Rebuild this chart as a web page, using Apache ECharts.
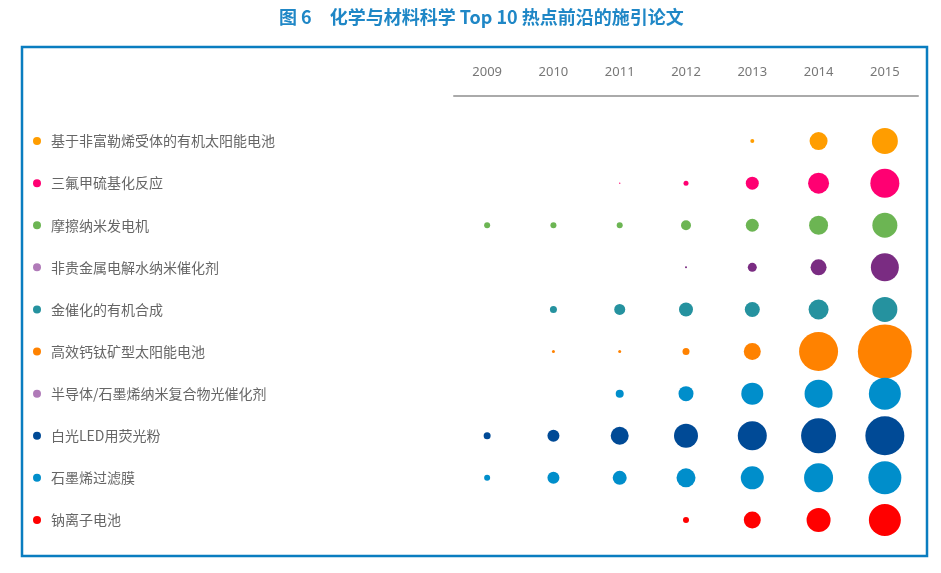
<!DOCTYPE html>
<html><head><meta charset="utf-8">
<script src="https://cdn.jsdelivr.net/npm/echarts@6/dist/echarts.min.js"></script>
<style>html,body{margin:0;padding:0;background:#fff}#c{width:941px;height:573px}</style>
</head><body><div id="c"></div>
<script>
const years = ['2009','2010','2011','2012','2013','2014','2015'];
const topics = ['基于非富勒烯受体的有机太阳能电池','三氟甲硫基化反应','摩擦纳米发电机','非贵金属电解水纳米催化剂','金催化的有机合成','高效钙钛矿型太阳能电池','半导体/石墨烯纳米复合物光催化剂','白光LED用荧光粉','石墨烯过滤膜','钠离子电池'];
// relative citation volume (bubble area)
const r1  = [null,null,null,null,16,324,676];
const r2  = [null,null,2,25,169,441,841];
const r3  = [36,36,36,100,169,361,625];
const r4  = [null,null,null,4,81,256,784];
const r5  = [null,49,121,196,225,400,625];
const r6  = [null,9,9,49,289,1521,2916];
const r7  = [null,null,64,225,484,784,1024];
const r8  = [49,144,324,576,841,1225,1521];
const r9  = [36,144,196,361,529,841,1089];
const r10 = [null,null,null,36,289,576,1024];
const rows = [r1,r2,r3,r4,r5,r6,r7,r8,r9,r10];
const bubbleColors = ['#ff9d00','#ff0072','#6cb553','#7a2c82','#25929f','#ff8200','#008ecb','#004a96','#008ecb','#ff0000'];
const legendColors = ['#ff9d00','#ff0072','#6cb553','#b07ab8','#25929f','#ff8200','#b07ab8','#004a96','#008ecb','#ff0000'];

const rich = {t:{color:'#666',fontSize:14,fontFamily:'Noto Sans CJK SC',padding:[0,0,0,10]}};
legendColors.forEach((c,i)=>{rich['d'+i]={width:8,height:8,borderRadius:4,backgroundColor:c};});

const series = rows.map((r,ri)=>({
  type:'scatter',
  name:topics[ri],
  data:r.map((v,xi)=>v==null?null:[xi,ri,v]).filter(Boolean),
  symbolSize:(d)=>Math.sqrt(d[2]),
  itemStyle:{color:bubbleColors[ri],opacity:1},
  silent:true
}));

const chart = echarts.init(document.getElementById('c'));
chart.setOption({
  animation:false,
  title:{text:'图 6　化学与材料科学 Top 10 热点前沿的施引论文',left:274,top:3,
    textStyle:{color:'#1f87c6',fontSize:18,fontWeight:'bold',fontFamily:'Noto Sans CJK SC'}},
  graphic:[{type:'rect',shape:{x:22,y:47,width:905,height:509},style:{fill:'none',stroke:'#0a7dc0',lineWidth:2.5}}],
  grid:{left:454,right:23,top:120,bottom:32},
  xAxis:{type:'category',data:years,position:'top',offset:24,
    axisLine:{show:true,lineStyle:{color:'#aaa',width:2}},axisTick:{show:false},
    axisLabel:{color:'#777',fontSize:13,margin:17,fontFamily:'Noto Sans'},splitLine:{show:false}},
  yAxis:{type:'category',data:topics,inverse:true,
    axisLine:{show:false},axisTick:{show:false},splitLine:{show:false},
    axisLabel:{align:'left',margin:421,
      formatter:(v,i)=>'{d'+i+'|}{t|'+v+'}',rich:rich}},
  series:series
});
</script></body></html>
